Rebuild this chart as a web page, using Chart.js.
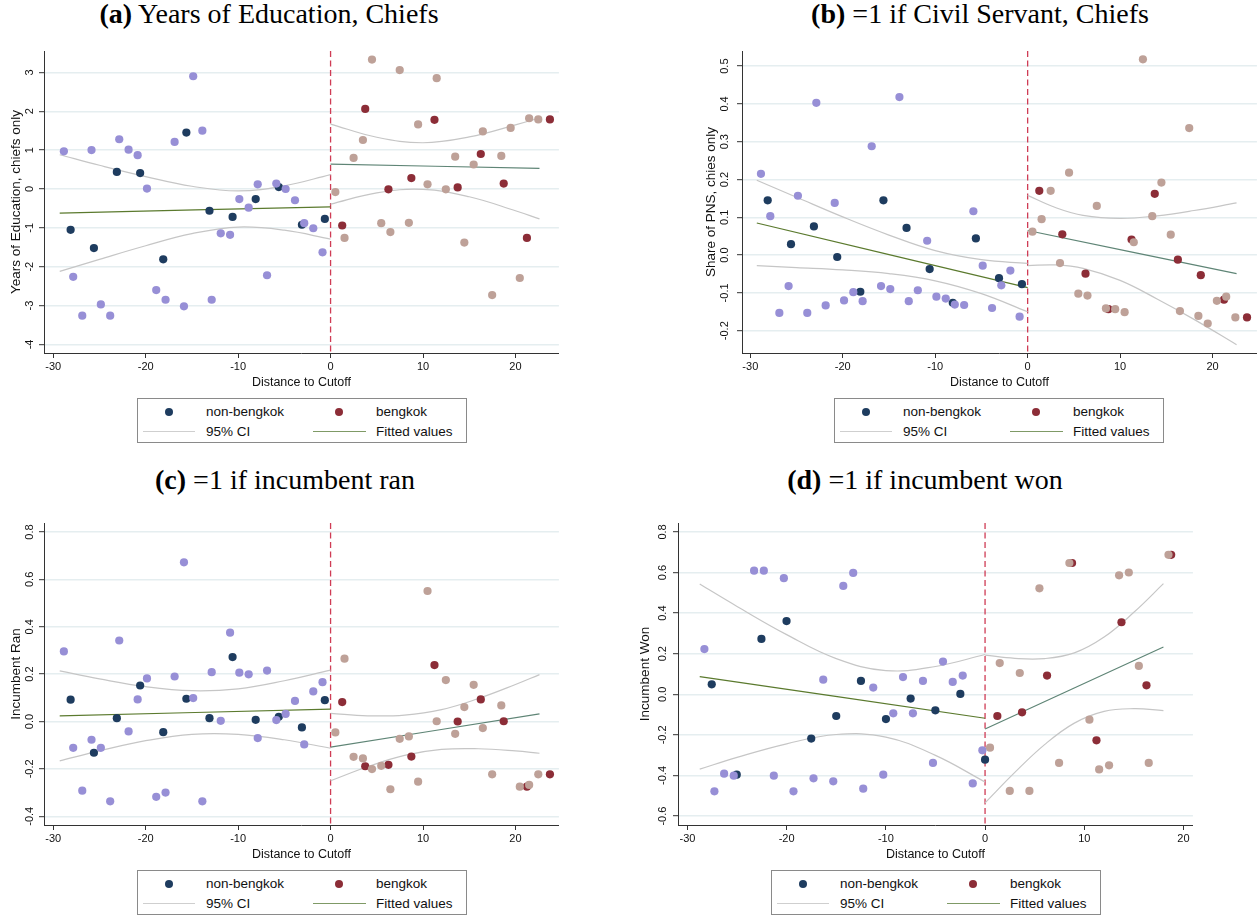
<!DOCTYPE html>
<html>
<head>
<meta charset="utf-8">
<title>RD plots: chiefs</title>
<script src="https://cdn.jsdelivr.net/npm/chart.js@4.4.1/dist/chart.umd.min.js"></script>
<style>
    html, body { margin: 0; padding: 0; background: #fff; overflow: hidden; }
    body { width: 1258px; height: 918px; position: relative; font-family: "Liberation Sans", Arial, sans-serif; }
    canvas { position: absolute; }
    .panel-title {
        position: absolute; font-family: "Liberation Serif", "Times New Roman", serif;
        font-size: 28px; line-height: 28px; white-space: nowrap; color: #000;
        transform: translateX(-50%);
    }
    .legend {
        position: absolute; width: 330px; height: 45px; box-sizing: border-box;
        border: 1px solid #8a8a8a; font-size: 13.5px; color: #111; background: #fff;
    }
    .legend .dot { position: absolute; width: 8px; height: 8px; border-radius: 50%; }
    .legend .ln { position: absolute; height: 1px; }
    .legend .lbl { position: absolute; line-height: 16px; white-space: nowrap; }
</style>
</head>
<body>

<div class="panel-title" style="left:269px; top:0px;"><b>(a)</b> Years of Education, Chiefs</div>
<div class="panel-title" style="left:980px; top:0px;"><b>(b)</b> =1 if Civil Servant, Chiefs</div>
<div class="panel-title" style="left:285px; top:466px;"><b>(c)</b> =1 if incumbent ran</div>
<div class="panel-title" style="left:925px; top:466px;"><b>(d)</b> =1 if incumbent won</div>

<canvas id="edu" width="563" height="345" style="left:0px; top:45px;"></canvas>
<canvas id="pns" width="563" height="345" style="left:698px; top:45px;"></canvas>
<canvas id="ran" width="563" height="345" style="left:0px; top:517px;"></canvas>
<canvas id="won" width="563" height="345" style="left:634px; top:517px;"></canvas>

<script>
// distance to cutoff of each village (panels a-c share the same villages)
const leftAllX = [-28.85, -27.84, -26.86, -25.86, -24.85, -23.84, -22.86, -21.85, -20.87, -19.86,
    -18.86, -17.85, -16.87, -15.86, -14.86, -13.87, -12.86, -11.88, -10.87, -9.87,
    -8.86, -7.88, -6.87, -5.87, -4.86, -3.85, -2.85, -1.87, -0.87];
const leftKeyX = [-28.12, -25.6, -23.12, -20.6, -18.1, -15.6, -13.1, -10.6, -8.1, -5.6, -3.1, -0.62];
const rightAllX = [0.52, 1.51, 2.49, 3.5, 4.48, 5.48, 6.47, 7.48, 8.47, 9.47, 10.49, 11.48,
    12.47, 13.48, 14.47, 15.48, 16.47, 17.48, 18.47, 19.48, 20.47, 21.48, 22.47];
const rightKeyX = [1.26, 3.75, 6.26, 8.74, 11.24, 13.75, 16.25, 18.73, 21.24, 23.73];

// (a) years of education
const eduLeftAll = [0.97, -2.26, -3.26, 1.00, -2.97, -3.26, 1.28, 1.01, 0.87, 0.01, -2.60, -2.85, 1.21, -3.02,
    2.90, 1.50, -2.85, -1.14, -1.18, -0.26, -0.48, 0.12, -2.22, 0.14, 0.00, -0.29, -0.88, -1.01, -1.63];
const eduLeftKey = [-1.05, -1.52, 0.44, 0.41, -1.81, 1.45, -0.56, -0.72, -0.26, 0.05, -0.92, -0.77];
const eduRightAll = [-0.08, -1.26, 0.80, 1.26, 3.33, -0.88, -1.11, 3.06, -0.87, 1.66, 0.12, 2.85,
    -0.01, 0.83, -1.38, 0.63, 1.48, -2.73, 0.85, 1.57, -2.29, 1.82, 1.79];
const eduRightKey = [-0.94, 2.06, -0.01, 0.28, 1.78, 0.04, 0.90, 0.14, -1.26, 1.79];
const eduCiLeftX = [-29.3, -25, -20, -15, -10, -5, 0];
const eduCiLeftHi = [0.88, 0.61, 0.32, 0.07, -0.05, 0.08, 0.37];
const eduCiLeftLo = [-2.12, -1.81, -1.46, -1.15, -0.98, -1.06, -1.29];
const eduCiRightX = [0, 5, 10, 15, 20, 22.6];
const eduCiRightHi = [1.67, 1.33, 1.19, 1.34, 1.65, 1.83];
const eduCiRightLo = [-0.39, -0.10, -0.01, -0.20, -0.56, -0.77];
const eduFitLeft = [[-29.3, -0.62], [0, -0.46]];
const eduFitRight = [[0, 0.64], [22.6, 0.53]];
const eduYTicks = ['-4', '-3', '-2', '-1', '0', '1', '2', '3'];

// (b) share of civil servants
const pnsLeftAll = [0.215, 0.103, -0.153, -0.082, 0.157, -0.153, 0.403, -0.133, 0.138, -0.120, -0.098, -0.122,
    0.288, -0.082, -0.090, 0.418, -0.122, -0.093, 0.038, -0.110, -0.115, -0.131, -0.132, 0.116, -0.028,
    -0.140, -0.080, -0.041, -0.163];
const pnsLeftKey = [0.145, 0.029, 0.076, -0.005, -0.097, 0.145, 0.072, -0.037, -0.126, 0.044, -0.061, -0.077];
const pnsRightAll = [0.062, 0.095, 0.170, -0.021, 0.218, -0.102, -0.107, 0.130, -0.141, -0.143, -0.151, 0.034,
    0.518, 0.103, 0.192, 0.054, -0.148, 0.336, -0.161, -0.181, -0.121, -0.110, -0.165];
const pnsRightKey = [0.170, 0.055, -0.049, -0.143, 0.041, 0.162, -0.012, -0.053, -0.118, -0.165];
const pnsCiLeftX = [-29.3, -25, -20, -15, -10, -5, 0];
const pnsCiLeftHi = [0.198, 0.153, 0.101, 0.053, 0.012, -0.012, -0.022];
const pnsCiLeftLo = [-0.028, -0.033, -0.039, -0.049, -0.068, -0.102, -0.150];
const pnsCiRightX = [0, 3, 6, 10, 14, 18, 22.6];
const pnsCiRightHi = [0.158, 0.126, 0.105, 0.097, 0.104, 0.118, 0.138];
const pnsCiRightLo = [-0.028, -0.026, -0.035, -0.067, -0.116, -0.170, -0.237];
const pnsFitLeft = [[-29.3, 0.085], [0, -0.086]];
const pnsFitRight = [[0, 0.065], [22.6, -0.049]];
const pnsYTicks = ['-0.2', '-0.1', '0.0', '0.1', '0.2', '0.3', '0.4', '0.5'];

// (c) incumbent ran (no village at 19.48 on the right)
const ranLeftAll = [0.296, -0.111, -0.292, -0.077, -0.111, -0.337, 0.342, -0.042, 0.093, 0.182, -0.318, -0.300,
    0.190, 0.672, 0.099, -0.337, 0.208, 0.003, 0.375, 0.206, 0.199, -0.070, 0.215, 0.006, 0.032,
    0.087, -0.097, 0.127, 0.166];
const ranLeftKey = [0.092, -0.132, 0.014, 0.152, -0.045, 0.096, 0.014, 0.272, 0.007, 0.020, -0.025, 0.090];
const ranRightAll = [-0.046, 0.265, -0.149, -0.156, -0.201, -0.187, -0.286, -0.073, -0.063, -0.254, 0.551, 0.001,
    0.175, -0.052, 0.061, 0.155, -0.028, -0.223, 0.068, null, -0.275, -0.268, -0.223];
const ranRightKey = [0.082, -0.189, -0.183, -0.148, 0.238, 0.000, 0.093, 0.001, -0.275, -0.223];
const ranCiLeftX = [-29.3, -25, -20, -15, -10, -5, 0];
const ranCiLeftHi = [0.214, 0.180, 0.147, 0.130, 0.138, 0.172, 0.217];
const ranCiLeftLo = [-0.166, -0.124, -0.081, -0.054, -0.054, -0.077, -0.113];
const ranCiRightX = [0, 4, 8, 12, 16, 20, 22.6];
const ranCiRightHi = [0.034, 0.024, 0.027, 0.050, 0.097, 0.156, 0.198];
const ranCiRightLo = [-0.250, -0.191, -0.143, -0.118, -0.115, -0.124, -0.134];
const ranFitLeft = [[-29.3, 0.024], [0, 0.052]];
const ranFitRight = [[0, -0.108], [22.6, 0.032]];
const ranYTicks = ['-0.4', '-0.2', '0.0', '0.2', '0.4', '0.6', '0.8'];

// (d) incumbent won
const wonLeftAllX = [-28.29, -27.28, -26.30, -25.33, -23.28, -22.30, -21.29, -20.28, -19.31, -17.29, -16.31,
    -15.30, -14.29, -13.29, -12.28, -11.27, -10.26, -9.25, -8.27, -7.27, -6.26, -5.25, -4.24, -3.26,
    -2.25, -1.24, -0.27];
const wonLeftAll = [0.223, -0.478, -0.391, -0.401, 0.609, 0.609, -0.401, 0.572, -0.478, -0.414, 0.072,
    -0.429, 0.534, 0.598, -0.465, 0.033, -0.396, -0.094, 0.085, -0.094, 0.066, -0.338, 0.161, 0.061,
    0.092, -0.439, -0.276];
const wonLeftKeyX = [-27.55, -25.03, -22.54, -20.01, -17.52, -15.0, -12.51, -9.99, -7.50, -5.01, -2.49, 0.0];
const wonLeftKey = [0.049, -0.396, 0.273, 0.361, -0.218, -0.107, 0.066, -0.122, -0.021, -0.079, 0.002, -0.322];
const wonRightAllX = [0.50, 1.48, 2.49, 3.50, 4.47, 5.48, 7.46, 8.50, 10.52, 11.50, 12.50, 13.51, 14.49,
    15.50, 16.50, 18.49];
const wonRightAll = [-0.263, 0.154, -0.476, 0.105, -0.476, 0.522, -0.338, 0.647, -0.125, -0.370, -0.350,
    0.586, 0.600, 0.140, -0.338, 0.687];
const wonRightKeyX = [1.24, 3.73, 6.25, 8.77, 11.23, 13.75, 16.27, 18.76];
const wonRightKey = [-0.107, -0.089, 0.092, 0.647, -0.227, 0.355, 0.044, 0.687];
const wonCiLeftX = [-28.76, -25, -20, -15, -10, -5, 0];
const wonCiLeftHi = [0.543, 0.433, 0.294, 0.176, 0.117, 0.137, 0.196];
const wonCiLeftLo = [-0.369, -0.311, -0.244, -0.198, -0.211, -0.301, -0.432];
const wonCiRightX = [0, 3, 6, 9, 12, 15, 17.98];
const wonCiRightHi = [0.193, 0.177, 0.176, 0.204, 0.282, 0.404, 0.545];
const wonCiRightLo = [-0.535, -0.385, -0.248, -0.142, -0.084, -0.071, -0.080];
const wonFitLeft = [[-28.76, 0.087], [0, -0.118]];
const wonFitRight = [[0, -0.171], [17.98, 0.233]];
const wonYTicks = ['-0.6', '-0.4', '-0.2', '0.0', '0.2', '0.4', '0.6', '0.8'];

const xTicks = ['-30', '-20', '-10', '0', '10', '20'];

const COLORS = {
    leftAll: '#978fd6',
    leftKey: '#1e3c5f',
    rightAll: '#bea198',
    rightKey: '#8c2d37',
    ci: '#c6c6c6',
    fitLeft: '#5b7a2e',
    fitRight: '#5f8576',
    cutoff: '#cf3c55',
    grid: '#e5eef0',
    axis: '#333333'
};

const zip = (xs, ys) => xs.map((x, i) => ({ x: x, y: ys[i] })).filter(p => p.y !== null);
const pairs = arr => arr.map(p => ({ x: p[0], y: p[1] }));

function dots(data, color) {
    return { data: data, backgroundColor: color, borderWidth: 0, pointRadius: 4.1, pointHoverRadius: 4.1 };
}
function curve(data, color) {
    return { data: data, showLine: true, borderColor: color, borderWidth: 1.2, pointRadius: 0,
        tension: 0.4, fill: false };
}

// dashed line at the cutoff, under the dots
const cutoffLine = {
    id: 'cutoffLine',
    beforeDatasetsDraw(chart) {
        const { ctx, chartArea, scales } = chart;
        const x = scales.x.getPixelForValue(0);
        ctx.save();
        ctx.strokeStyle = COLORS.cutoff;
        ctx.lineWidth = 1.3;
        ctx.setLineDash([6, 3.5]);
        ctx.beginPath();
        ctx.moveTo(x, chartArea.top);
        ctx.lineTo(x, chartArea.bottom);
        ctx.stroke();
        ctx.restore();
    }
};

// y tick labels are written sideways
const sideLabels = {
    id: 'sideLabels',
    afterDraw(chart, args, opts) {
        const { ctx, chartArea, scales } = chart;
        ctx.save();
        ctx.fillStyle = '#111';
        ctx.font = '11px "Liberation Sans", Arial, sans-serif';
        ctx.textAlign = 'center';
        ctx.textBaseline = 'middle';
        opts.labels.forEach(label => {
            const y = scales.y.getPixelForValue(parseFloat(label));
            ctx.save();
            ctx.translate(chartArea.left - opts.gap, y);
            ctx.rotate(-Math.PI / 2);
            ctx.fillText(label, 0, 0);
            ctx.restore();
        });
        ctx.restore();
    }
};

function buildPanel(p) {
    const datasets = [
        dots(p.leftAll, COLORS.leftAll),
        dots(p.rightAll, COLORS.rightAll),
        dots(p.leftKey, COLORS.leftKey),
        dots(p.rightKey, COLORS.rightKey),
        curve(p.ciLeftHi, COLORS.ci),
        curve(p.ciLeftLo, COLORS.ci),
        curve(p.ciRightHi, COLORS.ci),
        curve(p.ciRightLo, COLORS.ci),
        curve(p.fitLeft, COLORS.fitLeft),
        curve(p.fitRight, COLORS.fitRight)
    ];

    new Chart(document.getElementById(p.id), {
        type: 'scatter',
        data: { datasets: datasets },
        options: {
            responsive: false,
            animation: false,
            layout: { padding: { left: 0, top: 6, right: 4, bottom: 0 } },
            plugins: {
                legend: { display: false },
                tooltip: { enabled: false },
                sideLabels: { labels: p.yTicks, gap: p.tickGap }
            },
            scales: {
                x: {
                    type: 'linear', min: p.xMin, max: p.xMax,
                    afterFit: s => { s.height = 37; },
                    afterBuildTicks: s => { s.ticks = xTicks.map(t => ({ value: parseFloat(t) })); },
                    grid: { drawOnChartArea: false, drawTicks: true, tickLength: 5, tickColor: COLORS.axis },
                    border: { color: COLORS.axis, width: 1 },
                    ticks: { color: '#111', padding: 2, font: { family: 'Liberation Sans', size: 11 },
                        callback: v => String(v) },
                    title: { display: true, text: 'Distance to Cutoff', color: '#111',
                        font: { family: 'Liberation Sans', size: 12.5 }, padding: { top: 0, bottom: 0 } }
                },
                y: {
                    type: 'linear', min: p.yMin, max: p.yMax,
                    afterFit: s => { s.width = 44; },
                    afterBuildTicks: s => { s.ticks = p.yTicks.map(t => ({ value: parseFloat(t) })); },
                    grid: { color: COLORS.grid, lineWidth: 1.4, drawTicks: true, tickLength: 5,
                        tickColor: COLORS.axis, tickWidth: 1 },
                    border: { color: COLORS.axis, width: 1 },
                    ticks: { display: false },
                    title: { display: true, text: p.yTitle, color: '#111',
                        font: { family: 'Liberation Sans', size: 13.5 }, padding: { top: p.titlePad, bottom: 0 } }
                }
            }
        },
        plugins: [cutoffLine, sideLabels]
    });
}

function addLegend(left, top) {
    const box = document.createElement('div');
    box.className = 'legend';
    box.style.left = left + 'px';
    box.style.top = top + 'px';
    box.innerHTML =
        '<span class="dot" style="left:27px;top:9px;background:' + COLORS.leftKey + '"></span>' +
        '<span class="lbl" style="left:68px;top:5px">non-bengkok</span>' +
        '<span class="dot" style="left:197px;top:9px;background:' + COLORS.rightKey + '"></span>' +
        '<span class="lbl" style="left:238px;top:5px">bengkok</span>' +
        '<span class="ln" style="left:5px;width:52px;top:32px;background:#cfcfcf"></span>' +
        '<span class="lbl" style="left:68px;top:25px">95% CI</span>' +
        '<span class="ln" style="left:175px;width:53px;top:32px;background:#7f9a66"></span>' +
        '<span class="lbl" style="left:238px;top:25px">Fitted values</span>';
    document.body.appendChild(box);
}

buildPanel({
    id: 'edu', xMin: -31.0, xMax: 24.7, yMin: -4.22, yMax: 3.55,
    yTicks: eduYTicks, tickGap: 14.3, titlePad: 8.3, yTitle: 'Years of Education, chiefs only',
    leftAll: zip(leftAllX, eduLeftAll), leftKey: zip(leftKeyX, eduLeftKey),
    rightAll: zip(rightAllX, eduRightAll), rightKey: zip(rightKeyX, eduRightKey),
    ciLeftHi: zip(eduCiLeftX, eduCiLeftHi), ciLeftLo: zip(eduCiLeftX, eduCiLeftLo),
    ciRightHi: zip(eduCiRightX, eduCiRightHi), ciRightLo: zip(eduCiRightX, eduCiRightLo),
    fitLeft: pairs(eduFitLeft), fitRight: pairs(eduFitRight)
});

buildPanel({
    id: 'pns', xMin: -30.9, xMax: 24.8, yMin: -0.259, yMax: 0.54,
    yTicks: pnsYTicks, tickGap: 16.7, titlePad: 5.2, yTitle: 'Share of PNS, chies only',
    leftAll: zip(leftAllX, pnsLeftAll), leftKey: zip(leftKeyX, pnsLeftKey),
    rightAll: zip(rightAllX, pnsRightAll), rightKey: zip(rightKeyX, pnsRightKey),
    ciLeftHi: zip(pnsCiLeftX, pnsCiLeftHi), ciLeftLo: zip(pnsCiLeftX, pnsCiLeftLo),
    ciRightHi: zip(pnsCiRightX, pnsCiRightHi), ciRightLo: zip(pnsCiRightX, pnsCiRightLo),
    fitLeft: pairs(pnsFitLeft), fitRight: pairs(pnsFitRight)
});

buildPanel({
    id: 'ran', xMin: -31.0, xMax: 24.7, yMin: -0.437, yMax: 0.838,
    yTicks: ranYTicks, tickGap: 14.3, titlePad: 8.3, yTitle: 'Incumbent Ran',
    leftAll: zip(leftAllX, ranLeftAll), leftKey: zip(leftKeyX, ranLeftKey),
    rightAll: zip(rightAllX, ranRightAll), rightKey: zip(rightKeyX, ranRightKey),
    ciLeftHi: zip(ranCiLeftX, ranCiLeftHi), ciLeftLo: zip(ranCiLeftX, ranCiLeftLo),
    ciRightHi: zip(ranCiRightX, ranCiRightHi), ciRightLo: zip(ranCiRightX, ranCiRightLo),
    fitLeft: pairs(ranFitLeft), fitRight: pairs(ranFitRight)
});

buildPanel({
    id: 'won', xMin: -30.95, xMax: 20.95, yMin: -0.644, yMax: 0.844,
    yTicks: wonYTicks, tickGap: 15, titlePad: 3.6, yTitle: 'Incumbent Won',
    leftAll: zip(wonLeftAllX, wonLeftAll), leftKey: zip(wonLeftKeyX, wonLeftKey),
    rightAll: zip(wonRightAllX, wonRightAll), rightKey: zip(wonRightKeyX, wonRightKey),
    ciLeftHi: zip(wonCiLeftX, wonCiLeftHi), ciLeftLo: zip(wonCiLeftX, wonCiLeftLo),
    ciRightHi: zip(wonCiRightX, wonCiRightHi), ciRightLo: zip(wonCiRightX, wonCiRightLo),
    fitLeft: pairs(wonFitLeft), fitRight: pairs(wonFitRight)
});

addLegend(137, 398);
addLegend(834, 398);
addLegend(137, 870);
addLegend(771, 870);
</script>
</body>
</html>
